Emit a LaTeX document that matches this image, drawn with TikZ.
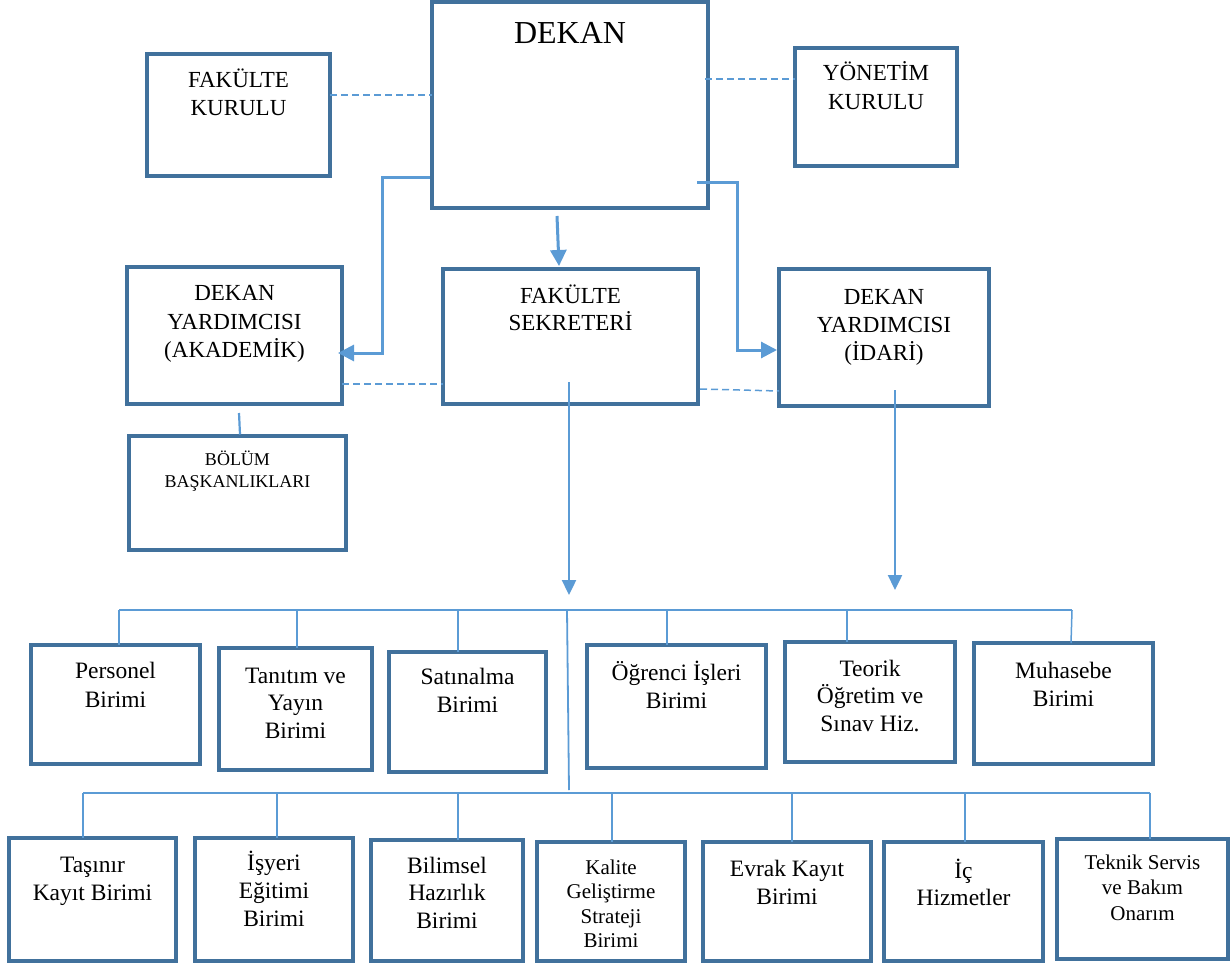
\documentclass[tikz,border=0pt]{standalone}
\usepackage{fontspec}
\setmainfont{Liberation Serif}
\usetikzlibrary{arrows.meta}
\definecolor{boxc}{HTML}{41719C}
\definecolor{linec}{HTML}{5B9BD5}
\newcommand\tx[6]{\node[txt] (#1) at (#2,#3) {\parbox[t]{300pt}{\centering\fontsize{#4}{#5}\selectfont #6}};}
\begin{document}
\begin{tikzpicture}[x=1pt,y=-1pt,
  box/.style={draw=boxc, line width=3.2pt, fill=white, inner sep=0pt, outer sep=0pt, anchor=north west},
  txt/.style={inner sep=0pt, outer sep=0pt, anchor=base, text=black},
  arr/.style={draw=linec, line width=3pt, -{Triangle[length=16pt,width=16pt]}},
  arrb/.style={draw=linec, line width=2.4pt, -{Triangle[length=15pt,width=14pt]}},
  dsh/.style={draw=linec, line width=1.5pt, dash pattern=on 7pt off 4pt},
  bus/.style={draw=linec, line width=2.3pt},
  drop/.style={draw=linec, line width=1.5pt},
]
\useasboundingbox (0,0) rectangle (1230,965);

% top level boxes
\node[box, minimum width=276pt, minimum height=206pt] (dekan) at (432,2) {};
\node[box, minimum width=183pt, minimum height=122pt] (fk) at (147,54) {};
\node[box, minimum width=162pt, minimum height=118pt] (yk) at (795,48) {};
\node[box, minimum width=215pt, minimum height=137pt] (akad) at (127,267) {};
\node[box, minimum width=217pt, minimum height=114pt] (bolum) at (129,436) {};
\node[box, minimum width=255pt, minimum height=135pt] (sek) at (443,269) {};
\node[box, minimum width=210pt, minimum height=137pt] (idari) at (779,269) {};

% row 1
\node[box, minimum width=169pt, minimum height=119pt] (pers) at (31,645) {};
\node[box, minimum width=153pt, minimum height=122pt] (tan) at (219,648) {};
\node[box, minimum width=157pt, minimum height=120pt] (sat) at (389,652) {};
\node[box, minimum width=179pt, minimum height=123pt] (ogr) at (587,645) {};
\node[box, minimum width=170pt, minimum height=120pt] (teo) at (785,642) {};
\node[box, minimum width=179pt, minimum height=121pt] (muh) at (974,643) {};

% row 2
\node[box, minimum width=167pt, minimum height=123pt] (tas) at (9,838) {};
\node[box, minimum width=158pt, minimum height=123pt] (isy) at (195,838) {};
\node[box, minimum width=152pt, minimum height=121pt] (bil) at (371,840) {};
\node[box, minimum width=148pt, minimum height=119pt] (kal) at (537,842) {};
\node[box, minimum width=168pt, minimum height=119pt] (evr) at (703,842) {};
\node[box, minimum width=159pt, minimum height=119pt] (ic) at (884,842) {};
\node[box, minimum width=171pt, minimum height=120pt] (tek) at (1057,839) {};

% texts
\tx{tdekan}{570}{44}{32}{36}{DEKAN}
\tx{tfk}{238.5}{88}{23}{28}{FAKÜLTE\\KURULU}
\tx{tyk}{876}{81}{23}{29}{YÖNETİM\\KURULU}
\tx{takad}{234.5}{301}{23}{28.5}{DEKAN\\YARDIMCISI\\(AKADEMİK)}
\tx{tbolum}{237.5}{465}{18}{22}{BÖLÜM\\BAŞKANLIKLARI}
\tx{tsek}{570.5}{304}{23}{27}{FAKÜLTE\\SEKRETERİ}
\tx{tidari}{884}{305}{23}{27.5}{DEKAN\\YARDIMCISI\\(İDARİ)}

\tx{tpers}{115.5}{678}{23.5}{29}{Personel\\Birimi}
\tx{ttan}{295.5}{683}{23.5}{27.5}{Tanıtım ve\\Yayın\\Birimi}
\tx{tsat}{467.5}{684}{23.5}{28}{Satınalma\\Birimi}
\tx{togr}{676.5}{680}{23.5}{28}{Öğrenci İşleri\\Birimi}
\tx{tteo}{870}{676}{23.5}{27.5}{Teorik\\Öğretim ve\\Sınav Hiz.}
\tx{tmuh}{1063.5}{678}{23.5}{28}{Muhasebe\\Birimi}

\tx{ttas}{92.5}{872}{23.5}{28}{Taşınır\\Kayıt Birimi}
\tx{tisy}{274}{870}{23.5}{28}{İşyeri\\Eğitimi\\Birimi}
\tx{tbil}{447}{873}{23.5}{27.5}{Bilimsel\\Hazırlık\\Birimi}
\tx{tkal}{611}{874}{21}{24.5}{Kalite\\Geliştirme\\Strateji\\Birimi}
\tx{tevr}{787}{876}{23.5}{28}{Evrak Kayıt\\Birimi}
\tx{tic}{963.5}{878}{23.5}{27}{İç\\Hizmetler}
\tx{ttek}{1142.5}{869}{21}{25.5}{Teknik Servis\\ve Bakım\\Onarım}

% dashed relations
\draw[dsh] ([yshift=20pt]fk.east) -- ([yshift=10pt]dekan.west);
\draw[dsh] ([xshift=-3pt,yshift=26pt]dekan.east) -- ([yshift=28pt]yk.west);
\draw[dsh] ([yshift=-48.5pt]akad.east) -- ([yshift=-47.5pt]sek.west);
\draw[dsh] ([xshift=2pt,yshift=-52.5pt]sek.east) -- ([yshift=-53.5pt]idari.west);

% arrows from dekan
\draw[arr] ([xshift=-2pt,yshift=30pt]dekan.south west) -- ++(-48,0) |- ([xshift=-4pt,yshift=-17.5pt]akad.east);
\draw[arr] ([xshift=-13pt,yshift=-8pt]dekan.south) -- ([xshift=-11.5pt,yshift=3pt]sek.north);
\draw[arr] ([xshift=-11pt,yshift=25pt]dekan.south east) -- ++(40,0) |- ([xshift=-2pt,yshift=-12.5pt]idari.west);

% akademik - bolum
\draw[drop, line width=2.2pt] ([xshift=4.5pt,yshift=-9pt]akad.south) -- ([xshift=2.5pt,yshift=1.5pt]bolum.north);

% down arrows to units
\coordinate (t1) at (569,595);
\coordinate (t2) at (895,590);
\draw[arrb] ([xshift=-1.5pt,yshift=22pt]sek.south) -- (t1);
\draw[arrb] ([xshift=11pt,yshift=16pt]idari.south) -- (t2);

% bus 1
\coordinate (b1l) at (119,610);
\coordinate (b1r) at (1072,610);
\draw[bus] (b1l) -- (b1r);
\draw[drop] (b1l) -- ([xshift=3.5pt]pers.north);
\draw[drop] ([xshift=1.5pt]tan.north |- b1l) -- ([xshift=1.5pt]tan.north);
\draw[drop] ([xshift=-9.5pt]sat.north |- b1l) -- ([xshift=-9.5pt]sat.north);
\draw[drop] ([xshift=-9.5pt]ogr.north |- b1l) -- ([xshift=-9.5pt]ogr.north);
\draw[drop] ([xshift=-23pt]teo.north |- b1l) -- ([xshift=-23pt]teo.north);
\draw[drop] (b1r) -- ([xshift=7.5pt]muh.north);

% trunk
\coordinate (tr1) at (567,610);
\coordinate (tr2) at (569,790);
\draw[drop, line width=1.8pt] (tr1) -- (tr2);

% bus 2
\coordinate (b2l) at (83,793);
\coordinate (b2r) at (1150,793);
\draw[bus] (b2l) -- (b2r);
\draw[drop] (b2l) -- ([xshift=-9.5pt]tas.north);
\draw[drop] ([xshift=3pt]isy.north |- b2l) -- ([xshift=3pt]isy.north);
\draw[drop] ([xshift=11pt]bil.north |- b2l) -- ([xshift=11pt]bil.north);
\draw[drop] ([xshift=1pt]kal.north |- b2l) -- ([xshift=1pt]kal.north);
\draw[drop] ([xshift=5pt]evr.north |- b2l) -- ([xshift=5pt]evr.north);
\draw[drop] ([xshift=1.5pt]ic.north |- b2l) -- ([xshift=1.5pt]ic.north);
\draw[drop] (b2r) -- ([xshift=7.5pt]tek.north);
\end{tikzpicture}
\end{document}
